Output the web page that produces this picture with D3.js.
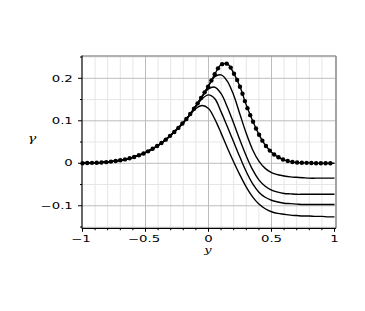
<!DOCTYPE html>
<html>
<head>
<meta charset="utf-8">
<script src="https://cdn.jsdelivr.net/npm/d3@7"></script>
<style>
html,body{margin:0;padding:0;background:#fff;}
svg{display:block;}
</style>
</head>
<body>
<svg id="chart" width="365" height="311"></svg>
<script>
// ---- data ----
const xs = [-1,-0.95,-0.9,-0.85,-0.8,-0.75,-0.7,-0.65,-0.6,-0.55,-0.5,-0.45,-0.4,-0.35,-0.3,-0.25,-0.2,-0.15,-0.1,-0.05,
  0,0.05,0.1,0.15,0.2,0.25,0.3,0.35,0.4,0.45,0.5,0.55,0.6,0.65,0.7,0.75,0.8,0.85,0.9,0.95,1];
// dotted (marker) curve
const gamma0 = [0.000,0.001,0.001,0.002,0.003,0.005,0.007,0.010,0.014,0.019,0.025,0.033,0.042,0.053,0.066,0.080,0.096,0.114,0.135,0.158,
  0.182,0.210,0.232,0.234,0.212,0.180,0.137,0.100,0.068,0.043,0.026,0.015,0.008,0.004,0.002,0.001,0.001,0.000,0.000,0.000,0.000];
const gamma1 = [0.000,0.001,0.001,0.002,0.003,0.005,0.007,0.010,0.014,0.019,0.025,0.033,0.042,0.053,0.066,0.080,0.096,0.114,0.135,0.158,
  0.182,0.204,0.208,0.193,0.160,0.115,0.070,0.032,0.005,-0.012,-0.022,-0.027,-0.030,-0.032,-0.033,-0.034,-0.035,-0.035,-0.035,-0.035,-0.035];
const gamma2 = [0.000,0.001,0.001,0.002,0.003,0.005,0.007,0.010,0.014,0.019,0.025,0.033,0.042,0.053,0.066,0.080,0.096,0.114,0.135,0.157,
  0.175,0.179,0.164,0.132,0.094,0.054,0.017,-0.015,-0.039,-0.054,-0.063,-0.068,-0.071,-0.072,-0.073,-0.073,-0.073,-0.073,-0.073,-0.073,-0.073];
const gamma3 = [0.000,0.001,0.001,0.002,0.003,0.005,0.007,0.010,0.014,0.019,0.025,0.033,0.042,0.053,0.066,0.080,0.096,0.114,0.134,0.152,
  0.161,0.152,0.121,0.086,0.050,0.014,-0.020,-0.048,-0.068,-0.080,-0.087,-0.091,-0.094,-0.095,-0.096,-0.097,-0.097,-0.097,-0.097,-0.097,-0.097];
const gamma4 = [0.000,0.001,0.001,0.002,0.003,0.005,0.007,0.010,0.014,0.019,0.025,0.033,0.042,0.053,0.066,0.080,0.095,0.113,0.129,0.136,
  0.129,0.104,0.071,0.036,0.003,-0.028,-0.056,-0.079,-0.096,-0.107,-0.114,-0.118,-0.120,-0.122,-0.123,-0.124,-0.124,-0.125,-0.125,-0.126,-0.126];
const xTicks = [-1,-0.5,0,0.5,1];
const xTickLabels = ["\u22121","\u22120.5","0","0.5","1"];
const yTicks = [-0.1,0,0.1,0.2];
const yTickLabels = ["\u22120.1","0","0.1","0.2"];
const xLabel = "y";
const yLabel = "\u03b3";

// ---- layout ----
const svg = d3.select("#chart");
const L = 82.5, R = 334.5, T = 56, B = 228.3;
const x = d3.scaleLinear().domain([-1,1]).range([L,R]);
const y = d3.scaleLinear().domain([-0.153,0.2525]).range([B,T]);
const frameL = 82, frameR = 336;

// minor grid
const xMinor = d3.range(-10,11).map(d=>d/10).filter(d=>Math.abs(d*2-Math.round(d*2))>1e-9);
const yMinor = d3.range(-3,6).map(d=>d*0.05).filter(d=>Math.abs(d*10-Math.round(d*10))>1e-9);
const g = svg.append("g");
g.selectAll(".vmin").data(xMinor).join("line")
  .attr("x1",d=>x(d)).attr("x2",d=>x(d)).attr("y1",T).attr("y2",B)
  .attr("stroke","#e6e6e6").attr("stroke-width",1);
g.selectAll(".hmin").data(yMinor).join("line")
  .attr("x1",frameL).attr("x2",frameR).attr("y1",d=>y(d)).attr("y2",d=>y(d))
  .attr("stroke","#e6e6e6").attr("stroke-width",1);
// major grid
g.selectAll(".vmaj").data([-0.5,0,0.5]).join("line")
  .attr("x1",d=>x(d)).attr("x2",d=>x(d)).attr("y1",T).attr("y2",B)
  .attr("stroke","#bdbdbd").attr("stroke-width",1);
g.selectAll(".hmaj").data(yTicks).join("line")
  .attr("x1",frameL).attr("x2",frameR).attr("y1",d=>y(d)).attr("y2",d=>y(d))
  .attr("stroke","#bdbdbd").attr("stroke-width",1);

// frame top/right (gray)
g.append("line").attr("x1",frameL).attr("x2",frameR).attr("y1",T).attr("y2",T)
  .attr("stroke","#9a9a9a").attr("stroke-width",1.5);
g.append("line").attr("x1",frameR).attr("x2",frameR).attr("y1",T).attr("y2",B)
  .attr("stroke","#9a9a9a").attr("stroke-width",1.8);

// curves
const line = d3.line().x((d,i)=>x(xs[i])).y(d=>y(d)).curve(d3.curveCatmullRom.alpha(0.5));
const series = [gamma4,gamma3,gamma2,gamma1,gamma0];
const paths = svg.append("g").selectAll("path").data(series).join("path")
  .attr("d",d=>line(d)).attr("fill","none").attr("stroke","#000").attr("stroke-width",1.4);

// markers on the dotted curve, placed along its path
const p0 = paths.nodes()[4];
const total = p0.getTotalLength();
const marks = [];
let prev = p0.getPointAtLength(0), acc = 100;
for (let s=0; s<=total; s+=0.25){
  const p = p0.getPointAtLength(s);
  const dx = p.x-prev.x, dy = (p.y-prev.y)*0.55;
  acc += Math.sqrt(dx*dx+dy*dy);
  prev = p;
  if (acc>=4.6){ marks.push([x.invert(p.x), y.invert(p.y)]); acc = 0; }
}
svg.append("g").selectAll("circle").data(marks).join("circle")
  .attr("cx",d=>x(d[0])).attr("cy",d=>y(d[1])).attr("r",2.2).attr("fill","#000");

// axes (left & bottom, black)
const ax = svg.append("g");
ax.append("line").attr("x1",frameL).attr("x2",frameL).attr("y1",T-0.5).attr("y2",B+0.5)
  .attr("stroke","#000").attr("stroke-width",1.2);
ax.append("line").attr("x1",frameL).attr("x2",frameR).attr("y1",B).attr("y2",B)
  .attr("stroke","#000").attr("stroke-width",1.2);
// x ticks
const xt = d3.range(-10,11).map(d=>d/10);
ax.selectAll(".xt").data(xt).join("line")
  .attr("x1",d=>x(d)).attr("x2",d=>x(d)).attr("y1",B)
  .attr("y2",d=>B+ (Math.abs(d*2-Math.round(d*2))<1e-9 ? 3.5 : 2))
  .attr("stroke","#000").attr("stroke-width",1);
// y ticks
const yt = d3.range(-3,6).map(d=>d*0.05);
ax.selectAll(".yt").data(yt).join("line")
  .attr("y1",d=>y(d)).attr("y2",d=>y(d)).attr("x1",frameL)
  .attr("x2",d=>frameL-(Math.abs(d*10-Math.round(d*10))<1e-9 ? 4 : 2))
  .attr("stroke","#000").attr("stroke-width",1);

const SX = 1.6;
function stretchedText(parent, tx, ty, txt, anchor, opts){
  const gg = parent.append("g").attr("transform",`translate(${tx},${ty}) scale(${opts.sx||SX},1)`);
  gg.append("text").attr("x",0).attr("y",0).attr("text-anchor",anchor)
    .attr("font-family",opts.family||"DejaVu Sans").attr("font-size",opts.size||8.3)
    .attr("font-style",opts.style||"normal").attr("fill","#000").text(txt);
}
xTicks.forEach((v,i)=>{
  let ox = 0;
  if (xTickLabels[i].startsWith("\u2212")) ox = -1.5;
  stretchedText(ax, x(v)+ox, 241.8, xTickLabels[i], "middle", {});
});
yTicks.forEach((v,i)=>{
  stretchedText(ax, 72.8, y(v)+3.2, yTickLabels[i], "end", {});
});
stretchedText(ax, 32, 141.5, yLabel, "middle", {family:"DejaVu Serif", style:"italic", size:11, sx:1.3});
stretchedText(ax, 208, 253, xLabel, "middle", {family:"DejaVu Serif", style:"italic", size:10, sx:1.3});
</script>
</body>
</html>
